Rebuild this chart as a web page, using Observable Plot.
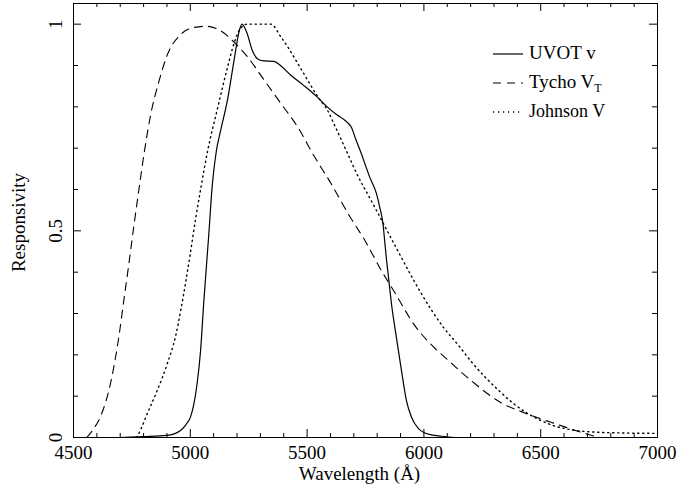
<!DOCTYPE html>
<html><head><meta charset="utf-8">
<script src="https://cdn.jsdelivr.net/npm/d3@7"></script>
<script src="https://cdn.jsdelivr.net/npm/@observablehq/plot@0.6"></script>
<style>
body{margin:0;background:#fff}
#wrap{position:relative;width:699px;height:490px}
#legend{position:absolute;left:0;top:0;pointer-events:none}
</style>
</head><body><div id="wrap"></div>
<script>
// ---- data ----
const uvotWave = [4700, 4800, 4900, 4958, 4980, 5001, 5015, 5029, 5044, 5058, 5079, 5094, 5112, 5130, 5159, 5188, 5210, 5221, 5243, 5265, 5286, 5314, 5357, 5386, 5429, 5485, 5543, 5586, 5629, 5660, 5689, 5710, 5732, 5747, 5768, 5797, 5811, 5825, 5833, 5840, 5848, 5862, 5882, 5904, 5925, 5947, 5976, 6019, 6076, 6150, 6300];
const uvotResp = [0, 0.002, 0.005, 0.017, 0.03, 0.05, 0.08, 0.13, 0.21, 0.33, 0.49, 0.61, 0.695, 0.743, 0.816, 0.915, 0.985, 1.0, 0.978, 0.937, 0.917, 0.911, 0.91, 0.90, 0.877, 0.852, 0.824, 0.80, 0.78, 0.768, 0.751, 0.719, 0.687, 0.663, 0.63, 0.59, 0.557, 0.517, 0.47, 0.43, 0.39, 0.32, 0.243, 0.162, 0.09, 0.049, 0.022, 0.008, 0.003, 0.0, 0.0];

const tychoWave = [4557, 4585, 4615, 4658, 4694, 4715, 4737, 4758, 4780, 4803, 4830, 4866, 4901, 4959, 5016, 5066, 5130, 5190, 5245, 5317, 5388, 5460, 5532, 5603, 5675, 5747, 5818, 5876, 5962, 6040, 6112, 6162, 6219, 6277, 6334, 6420, 6491, 6570, 6649, 6750];
const tychoResp = [0, 0.02, 0.05, 0.13, 0.243, 0.33, 0.42, 0.51, 0.6, 0.69, 0.78, 0.862, 0.925, 0.975, 0.992, 0.995, 0.984, 0.955, 0.921, 0.864, 0.808, 0.751, 0.679, 0.614, 0.542, 0.477, 0.404, 0.35, 0.27, 0.22, 0.183, 0.157, 0.13, 0.104, 0.083, 0.062, 0.047, 0.032, 0.017, 0];

const johnWave = [4770, 4790, 4810, 4858, 4901, 4937, 4960, 4980, 5000, 5023, 5044, 5073, 5116, 5159, 5188, 5215, 5245, 5290, 5345, 5388, 5417, 5460, 5503, 5546, 5589, 5618, 5675, 5718, 5761, 5804, 5840, 5890, 5947, 5983, 6083, 6148, 6205, 6269, 6320, 6384, 6448, 6534, 6649, 6735, 6850, 7000];
const johnResp = [0, 0.022, 0.05, 0.113, 0.178, 0.245, 0.31, 0.375, 0.445, 0.53, 0.6, 0.69, 0.795, 0.895, 0.955, 0.99, 1.0, 1.0, 1.0, 0.969, 0.945, 0.905, 0.864, 0.824, 0.79, 0.755, 0.685, 0.632, 0.587, 0.542, 0.503, 0.45, 0.39, 0.354, 0.267, 0.223, 0.182, 0.142, 0.114, 0.082, 0.057, 0.033, 0.017, 0.013, 0.011, 0.01];

const xMajor = [4500, 5000, 5500, 6000, 6500, 7000];
const xMinor = [4600,4700,4800,4900,5100,5200,5300,5400,5600,5700,5800,5900,6100,6200,6300,6400,6600,6700,6800,6900];
const yMajor = [0, 0.5, 1];
const yMinor = [0.1,0.2,0.3,0.4,0.6,0.7,0.8,0.9];
const yLabels = ["0", "0.5", "1"];
const seriesNames = ["UVOT v", "Tycho V", "Johnson V"];

const toRows = (w, r) => w.map((x, i) => ({w: x, r: r[i]}));
const uvot = toRows(uvotWave, uvotResp);
const tycho = toRows(tychoWave, tychoResp);
const john = toRows(johnWave, johnResp);

const W = 699, H = 490, mL = 73, mR = 42, mT = 3, mB = 53;
const pw = W - mL - mR, ph = H - mT - mB;
const font = "Liberation Serif, Times New Roman, serif";

const chart = Plot.plot({
  width: W, height: H,
  marginLeft: mL, marginRight: mR, marginTop: mT, marginBottom: mB,
  x: {domain: [4500, 7000], axis: null},
  y: {domain: [0, 1.05], axis: null},
  style: {fontFamily: font, background: "white", color: "black"},
  marks: [
    Plot.line(tycho, {x: "w", y: "r", stroke: "black", strokeWidth: 1.1, strokeDasharray: "8,6", curve: "monotone-x"}),
    Plot.line(john, {x: "w", y: "r", stroke: "black", strokeWidth: 1.4, strokeDasharray: "1.2,3.8", curve: "monotone-x"}),
    Plot.line(uvot, {x: "w", y: "r", stroke: "black", strokeWidth: 1.2, curve: "monotone-x"}),
    Plot.frame({stroke: "black", strokeWidth: 1}),
    Plot.tickX(xMajor, {x: d => d, insetTop: ph - 8, stroke: "black"}),
    Plot.tickX(xMajor, {x: d => d, insetBottom: ph - 8, stroke: "black"}),
    Plot.tickX(xMinor, {x: d => d, insetTop: ph - 4, stroke: "black"}),
    Plot.tickX(xMinor, {x: d => d, insetBottom: ph - 4, stroke: "black"}),
    Plot.tickY(yMajor, {y: d => d, insetRight: pw - 8, stroke: "black"}),
    Plot.tickY(yMajor, {y: d => d, insetLeft: pw - 8, stroke: "black"}),
    Plot.tickY(yMinor, {y: d => d, insetRight: pw - 5, stroke: "black"}),
    Plot.tickY(yMinor, {y: d => d, insetLeft: pw - 5, stroke: "black"}),
    Plot.text(xMajor, {x: d => d, text: d => String(d), frameAnchor: "bottom", lineAnchor: "top", dy: 8, fontSize: 19, fill: "black"}),
    Plot.text(yMajor, {y: d => d, text: (d, i) => yLabels[i], frameAnchor: "left", textAnchor: "middle", rotate: -90, dx: -18, fontSize: 19, fill: "black"}),
    Plot.text(["Wavelength (Å)"], {text: d => d, frameAnchor: "bottom", lineAnchor: "top", dy: 28.5, dx: -6, fontSize: 19, fill: "black"}),
    Plot.text(["Responsivity"], {text: d => d, frameAnchor: "left", textAnchor: "middle", rotate: -90, dx: -54.5, dy: 2, fontSize: 19, fill: "black"})
  ]
});

const wrap = document.getElementById("wrap");
wrap.appendChild(chart);

// legend overlay
const ns = "http://www.w3.org/2000/svg";
const leg = document.createElementNS(ns, "svg");
leg.setAttribute("id", "legend");
leg.setAttribute("width", W);
leg.setAttribute("height", H);
const styles = [{dash: null, w: 1.2}, {dash: "8,6", w: 1.1}, {dash: "1.2,3.8", w: 1.4}];
const rowsY = [59, 88, 117];
seriesNames.forEach((name, i) => {
  const ly = rowsY[i] - 5;
  const ln = document.createElementNS(ns, "line");
  ln.setAttribute("x1", 493); ln.setAttribute("x2", 523);
  ln.setAttribute("y1", ly); ln.setAttribute("y2", ly);
  ln.setAttribute("stroke", "black");
  ln.setAttribute("stroke-width", styles[i].w);
  if (styles[i].dash) ln.setAttribute("stroke-dasharray", styles[i].dash);
  leg.appendChild(ln);
  const t = document.createElementNS(ns, "text");
  t.setAttribute("x", 529); t.setAttribute("y", rowsY[i]);
  t.setAttribute("font-family", font);
  t.setAttribute("font-size", i === 2 ? 18 : 19);
  t.textContent = name;
  if (i === 1) {
    const sub = document.createElementNS(ns, "tspan");
    sub.setAttribute("dy", 4);
    sub.setAttribute("font-size", 12);
    sub.textContent = "T";
    t.appendChild(sub);
  }
  leg.appendChild(t);
});
wrap.appendChild(leg);
</script></body></html>
